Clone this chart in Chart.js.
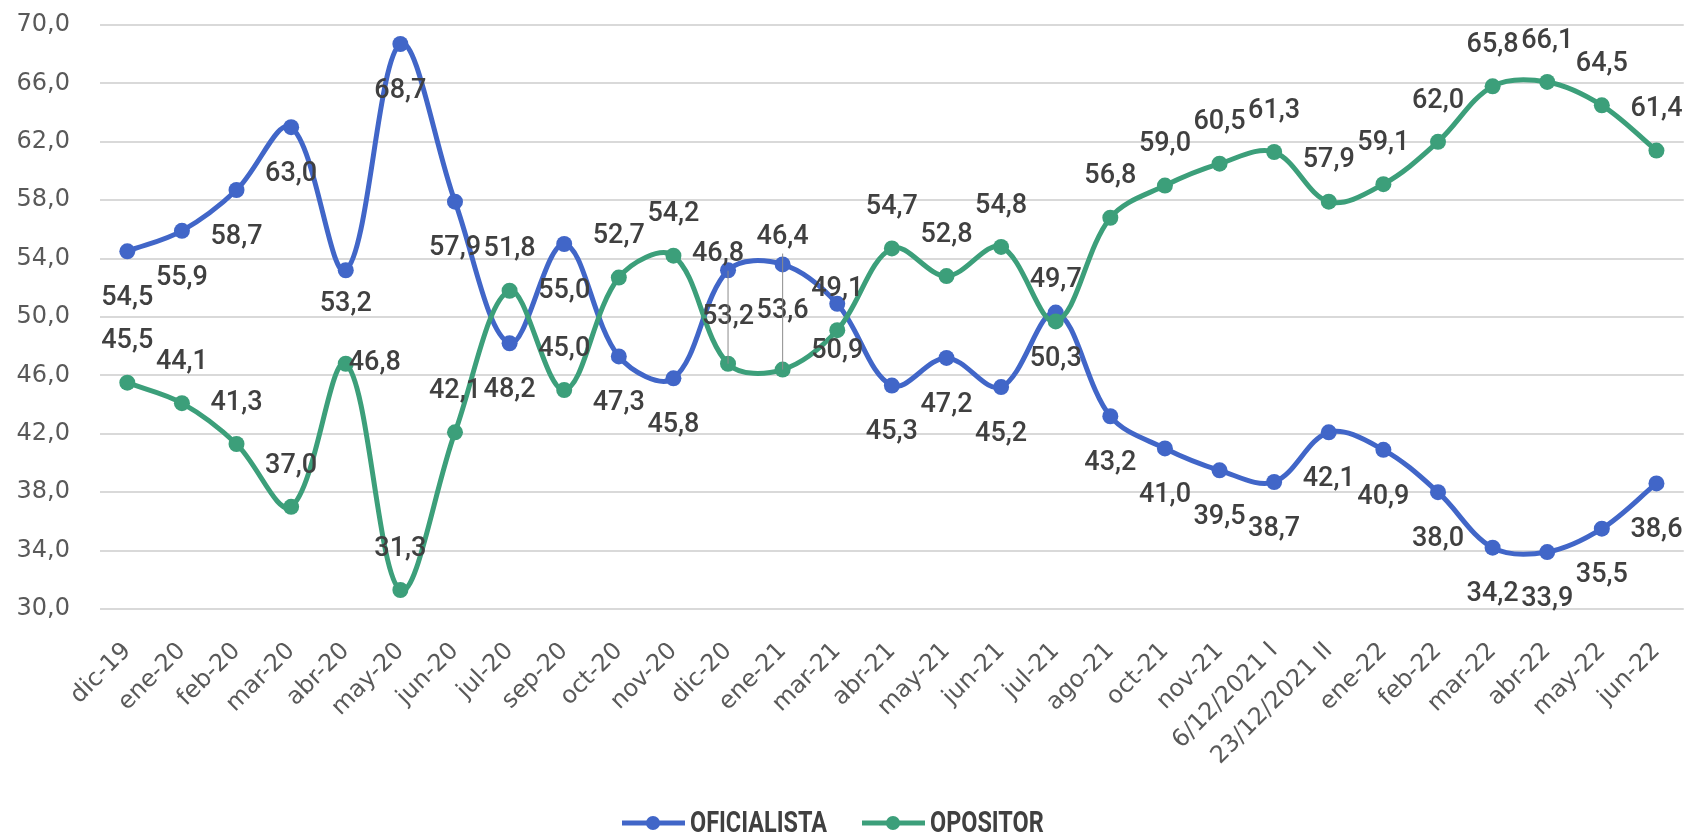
<!DOCTYPE html>
<html>
<head>
<meta charset="utf-8">
<script src="https://cdn.jsdelivr.net/npm/chart.js@4"></script>
<style>
  html, body { margin: 0; padding: 0; background: #fff; }
  #wrap { width: 1697px; height: 838px; }
</style>
</head>
<body>
<div id="wrap"><canvas id="chart" width="1697" height="838"></canvas></div>
<script>
// ---------- Data ----------
const categories = [
  'dic-19', 'ene-20', 'feb-20', 'mar-20', 'abr-20', 'may-20', 'jun-20', 'jul-20',
  'sep-20', 'oct-20', 'nov-20', 'dic-20', 'ene-21', 'mar-21', 'abr-21', 'may-21',
  'jun-21', 'jul-21', 'ago-21', 'oct-21', 'nov-21', '6/12/2021 I', '23/12/2021 II',
  'ene-22', 'feb-22', 'mar-22', 'abr-22', 'may-22', 'jun-22'
];
const oficialista = [
  54.5, 55.9, 58.7, 63.0, 53.2, 68.7, 57.9, 48.2, 55.0, 47.3, 45.8, 53.2, 53.6, 50.9,
  45.3, 47.2, 45.2, 50.3, 43.2, 41.0, 39.5, 38.7, 42.1, 40.9, 38.0, 34.2, 33.9, 35.5, 38.6
];
const opositor = [
  45.5, 44.1, 41.3, 37.0, 46.8, 31.3, 42.1, 51.8, 45.0, 52.7, 54.2, 46.8, 46.4, 49.1,
  54.7, 52.8, 54.8, 49.7, 56.8, 59.0, 60.5, 61.3, 57.9, 59.1, 62.0, 65.8, 66.1, 64.5, 61.4
];
const seriesNames = ['OFICIALISTA', 'OPOSITOR'];
const yTickValues = [30, 34, 38, 42, 46, 50, 54, 58, 62, 66, 70];

const BLUE = '#4166c8';
const GREEN = '#3c9f7a';

const fmt = v => v.toFixed(1).replace('.', ',');

// label placement: blue below, green above; a few moved by hand like the source
const labelOffset = [47, -41];
const labelNudges = {
  0: { 4: [0, 34] },
  1: { 4: [29, 0], 11: [-10, -109, true], 12: [0, -132, true] }
};

// ---------- Plugins ----------
const valueLabels = {
  id: 'valueLabels',
  afterDatasetsDraw(chart) {
    const ctx = chart.ctx;
    ctx.save();
    ctx.font = '500 27px Roboto';
    ctx.fillStyle = '#404040';
    ctx.textAlign = 'center';
    ctx.textBaseline = 'middle';
    chart.data.datasets.forEach((ds, di) => {
      const meta = chart.getDatasetMeta(di);
      meta.data.forEach((pt, i) => {
        const n = labelNudges[di] && labelNudges[di][i];
        const dx = n ? n[0] : 0;
        const dy = n ? n[1] : labelOffset[di];
        if (n && n[2]) {
          ctx.save();
          ctx.strokeStyle = '#8c8c8c';
          ctx.lineWidth = 1;
          ctx.beginPath();
          ctx.moveTo(pt.x, pt.y + dy + 16);
          ctx.lineTo(pt.x, pt.y);
          ctx.stroke();
          ctx.restore();
        }
        ctx.fillText(fmt(ds.data[i]), pt.x + dx, pt.y + dy);
      });
    });
    ctx.restore();
  }
};

const bottomLegend = {
  id: 'bottomLegend',
  afterDraw(chart) {
    const ctx = chart.ctx;
    const colors = [BLUE, GREEN];
    const y = 823;
    let x = 622;
    ctx.save();
    ctx.font = 'bold 30px Roboto';
    const squeeze = 137 / ctx.measureText(seriesNames[0]).width;
    seriesNames.forEach((name, i) => {
      ctx.strokeStyle = colors[i];
      ctx.fillStyle = colors[i];
      ctx.lineWidth = 5;
      ctx.beginPath();
      ctx.moveTo(x, y);
      ctx.lineTo(x + 63, y);
      ctx.stroke();
      ctx.beginPath();
      ctx.arc(x + 31, y, 7, 0, Math.PI * 2);
      ctx.fill();
      const tw = ctx.measureText(name).width * squeeze;
      ctx.save();
      ctx.translate(x + 68, y);
      ctx.scale(squeeze, 1);
      ctx.fillStyle = '#404040';
      ctx.textBaseline = 'middle';
      ctx.fillText(name, 0, 1);
      ctx.restore();
      x += 68 + tw + 35;
    });
    ctx.restore();
  }
};

// ---------- Chart ----------
const datasets = [oficialista, opositor].map((vals, i) => ({
  label: seriesNames[i],
  data: vals,
  borderColor: [BLUE, GREEN][i],
  backgroundColor: [BLUE, GREEN][i],
  borderWidth: 5,
  pointRadius: 8,
  pointHoverRadius: 8,
  pointBorderWidth: 0,
  tension: 0.35,
  order: 1 - i
}));

new Chart(document.getElementById('chart'), {
  type: 'line',
  data: { labels: categories, datasets },
  options: {
    responsive: false,
    animation: false,
    layout: { padding: { top: 25, right: 11, left: 0, bottom: 0 } },
    plugins: { legend: { display: false }, tooltip: { enabled: false } },
    scales: {
      x: {
        offset: true,
        grid: { display: false },
        border: { display: false },
        ticks: {
          autoSkip: false,
          maxRotation: 45,
          minRotation: 45,
          padding: 20,
          color: '#595959',
          font: { family: 'DejaVu Sans', size: 24 }
        },
        afterFit(scale) { scale.height = 229; }
      },
      y: {
        min: 30,
        max: 70,
        grid: { color: '#d9d9d9', lineWidth: 2, drawTicks: false },
        border: { display: false },
        afterBuildTicks(scale) { scale.ticks = yTickValues.map(v => ({ value: v })); },
        ticks: {
          padding: 30,
          color: '#595959',
          font: { family: 'DejaVu Sans', size: 24 },
          callback: v => fmt(v)
        },
        afterFit(scale) {
          scale.width = 100;
          scale.paddingTop = 0;
          scale.paddingBottom = 0;
        }
      }
    }
  },
  plugins: [valueLabels, bottomLegend]
});
</script>
</body>
</html>
